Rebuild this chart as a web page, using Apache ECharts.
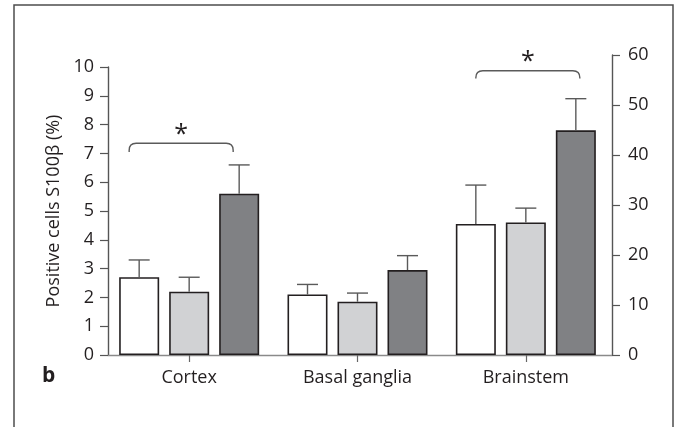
<!DOCTYPE html>
<html>
<head>
<meta charset="utf-8">
<script src="https://cdn.jsdelivr.net/npm/echarts@6/dist/echarts.min.js"></script>
<style>
html,body{margin:0;padding:0;background:#fff;}
#chart{width:678px;height:427px;}
</style>
</head>
<body>
<div id="chart"></div>
<script>
// ---- data ----
const categories = ['Cortex', 'Basal ganglia', 'Brainstem'];
const whiteValues = [2.7, 2.1, 4.55];
const lightValues = [2.2, 1.85, 4.6];
const darkValues  = [5.6, 2.95, 7.8];
const whiteErrTop = [3.3, 2.45, 5.9];
const lightErrTop = [2.7, 2.15, 5.1];
const darkErrTop  = [6.6, 3.45, 8.9];
const leftTicks  = [0,1,2,3,4,5,6,7,8,9,10];
const rightTicks = [0,10,20,30,40,50,60];
const bracketCategory = [0, 2];
const bracketTopValue = [7.35, 9.87];
const bracketEndValue = [7.05, 9.6];
const bracketMark = ['*', '*'];
const yTitle = 'Positive cells S100β (%)';
const panelLabel = 'b';

// ---- layout / style ----
const FONT = "'Open Sans', 'Noto Sans', sans-serif";
const BAR_W = 40, BAR_STEP = 50, CAP_HALF = 10.5;
const bracketShiftPx = [-8, 2];
const BRACKET_HALF = 52, BRACKET_R = 7;

const chart = echarts.init(document.getElementById('chart'), null, {renderer: 'canvas'});

const seriesVals = [whiteValues, lightValues, darkValues];
const seriesErr = [whiteErrTop, lightErrTop, darkErrTop];
const fills = ['#ffffff', '#d1d2d4', '#808184'];

const errData = [];
seriesVals.forEach((vals, s) => vals.forEach((v, c) => errData.push([c, v, seriesErr[s][c], s])));
const bracketData = bracketCategory.map((c, i) => [c, bracketTopValue[i], bracketEndValue[i], i]);

const barSeries = seriesVals.map((vals, s) => ({
  type: 'bar', xAxisIndex: 0, yAxisIndex: 0,
  data: vals, barWidth: BAR_W, barGap: '25%',
  itemStyle: {color: fills[s], borderColor: '#231f20', borderWidth: 1.6},
  silent: true, animation: false, z: 2
}));

const option = {
  animation: false,
  grid: [
    {left: 105, right: 68, top: 67, bottom: 72},
    {left: 108, right: 66, top: 67, bottom: 72},
    {left: 108, right: 66, top: 55, bottom: 72}
  ],
  xAxis: [
    {type: 'category', gridIndex: 0, data: categories,
     axisLine: {show: false},
     axisTick: {show: true, alignWithLabel: true, length: 7, lineStyle: {color: '#666', width: 1.2}},
     axisLabel: {fontFamily: FONT, fontSize: 18, color: '#231f20', margin: 14}},
    {type: 'value', gridIndex: 1, min: 0, max: 1,
     axisLine: {show: true, onZero: false, lineStyle: {color: '#8a8a8a', width: 1.4}},
     axisTick: {show: false}, axisLabel: {show: false}, splitLine: {show: false}},
    {type: 'value', gridIndex: 2, min: 0, max: 1, show: false}
  ],
  yAxis: [
    {type: 'value', gridIndex: 0, min: 0, max: 10, show: false},
    {type: 'value', gridIndex: 1, min: leftTicks[0], max: leftTicks[leftTicks.length-1], interval: 1,
     name: yTitle, nameLocation: 'middle', nameGap: 43, nameRotate: 90,
     nameTextStyle: {fontFamily: FONT, fontSize: 18, color: '#231f20'},
     axisLine: {show: true, onZero: false, lineStyle: {color: '#555', width: 1.4}},
     axisTick: {show: true, length: 8, lineStyle: {color: '#555', width: 1.2}},
     axisLabel: {fontFamily: FONT, fontSize: 18, color: '#231f20', margin: 14},
     splitLine: {show: false}},
    {type: 'value', gridIndex: 2, position: 'right', min: rightTicks[0], max: rightTicks[rightTicks.length-1], interval: 10,
     axisLine: {show: true, onZero: false, lineStyle: {color: '#555', width: 1.4}},
     axisTick: {show: true, length: 8, lineStyle: {color: '#555', width: 1.2}},
     axisLabel: {fontFamily: FONT, fontSize: 18, color: '#231f20', margin: 16},
     splitLine: {show: false}}
  ],
  graphic: [
    {type: 'rect', shape: {x: 14, y: 5, width: 659, height: 460},
     style: {fill: 'none', stroke: '#4d4d4d', lineWidth: 1.5}, silent: true},
    {type: 'text', left: 42, top: 366,
     style: {text: panelLabel, font: "bold 21px " + FONT, fill: '#231f20'}}
  ],
  series: barSeries.concat([
    {type: 'custom', xAxisIndex: 0, yAxisIndex: 0, data: errData, z: 3, silent: true,
     renderItem: function (params, api) {
       const c = api.value(0), s = api.value(3);
       const x = api.coord([c, 0])[0] + (s - 1) * BAR_STEP;
       const y0 = api.coord([c, api.value(1)])[1];
       const y1 = api.coord([c, api.value(2)])[1];
       const st = {stroke: '#5a5a5a', lineWidth: 1.4};
       return {type: 'group', children: [
         {type: 'line', shape: {x1: x, y1: y0, x2: x, y2: y1}, style: st},
         {type: 'line', shape: {x1: x - CAP_HALF, y1: y1, x2: x + CAP_HALF, y2: y1}, style: st}
       ]};
     }},
    {type: 'custom', xAxisIndex: 0, yAxisIndex: 0, data: bracketData, z: 3, silent: true,
     renderItem: function (params, api) {
       const c = api.value(0), i = api.value(3);
       const cx = api.coord([c, 0])[0] + bracketShiftPx[i];
       const yt = api.coord([c, api.value(1)])[1];
       const ye = api.coord([c, api.value(2)])[1];
       const xl = cx - BRACKET_HALF, xr = cx + BRACKET_HALF, r = BRACKET_R;
       const path = 'M' + xl + ' ' + ye + ' L' + xl + ' ' + (yt + r) +
         ' Q' + xl + ' ' + yt + ' ' + (xl + r) + ' ' + yt +
         ' L' + (xr - r) + ' ' + yt +
         ' Q' + xr + ' ' + yt + ' ' + xr + ' ' + (yt + r) +
         ' L' + xr + ' ' + ye;
       return {type: 'group', children: [
         {type: 'path', shape: {pathData: path}, style: {fill: 'none', stroke: '#5a5a5a', lineWidth: 1.4}},
         {type: 'text', x: cx, y: yt - 21,
          style: {text: bracketMark[i], font: '25px ' + FONT, fill: '#231f20', textAlign: 'center', textVerticalAlign: 'top'}}
       ]};
     }}
  ])
};
chart.setOption(option);
</script>
</body>
</html>
